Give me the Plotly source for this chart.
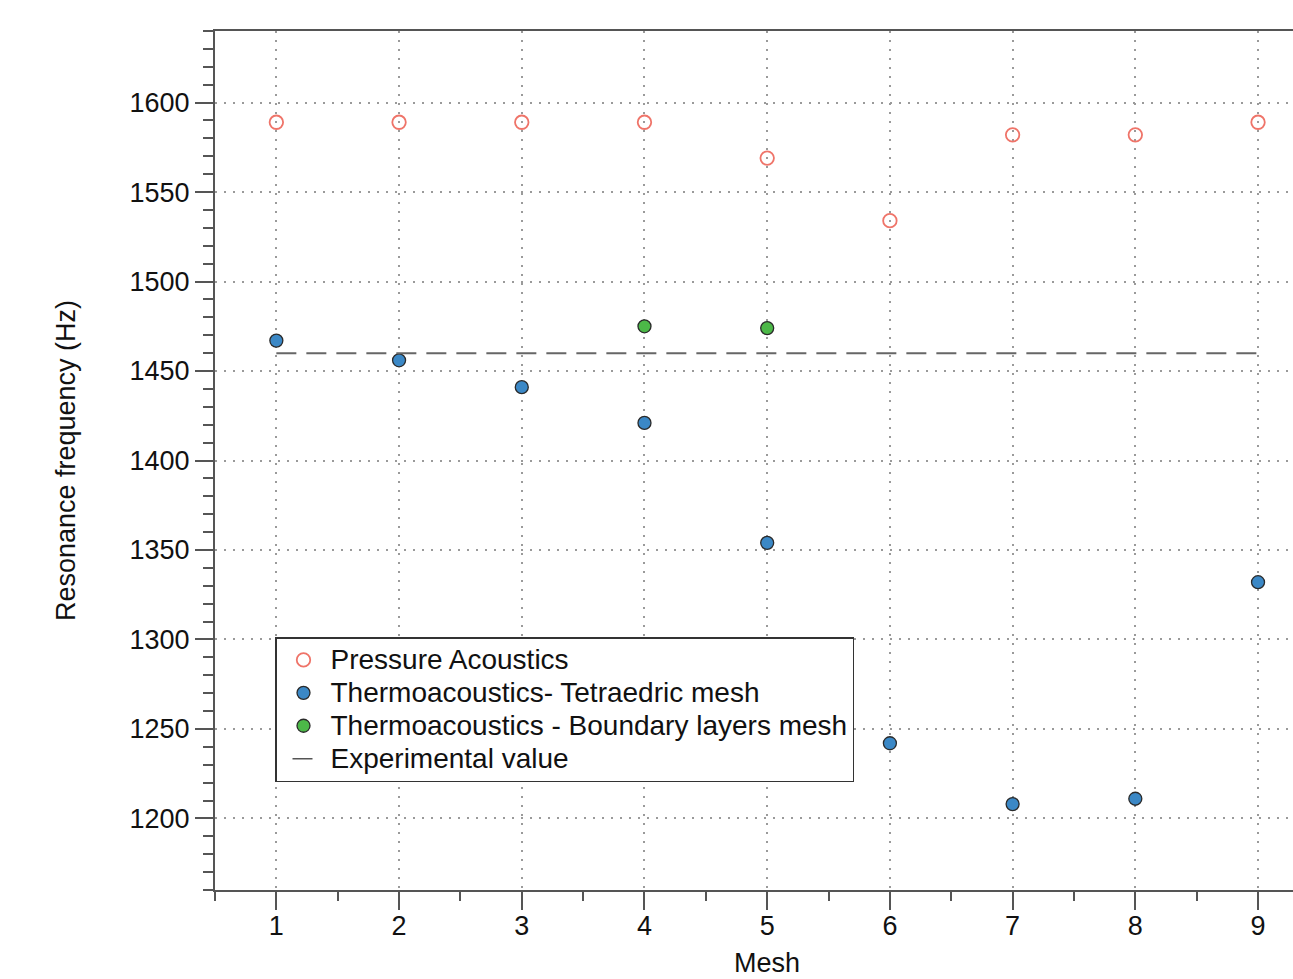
import plotly.graph_objects as go

# Mesh indices and resonance frequencies (Hz)
mesh = [1, 2, 3, 4, 5, 6, 7, 8, 9]
pressure_acoustics = [1589, 1589, 1589, 1589, 1569, 1534, 1582, 1582, 1589]
thermo_tetra = [1467, 1456, 1441, 1421, 1354, 1242, 1208, 1211, 1332]
mesh_boundary = [4, 5]
thermo_boundary = [1475, 1474]
experimental_x = [1, 9]
experimental_value = 1460

FONT = "Liberation Sans, Arial, Helvetica, sans-serif"
AXIS_COLOR = "#555555"
TEXT_COLOR = "#111111"


def legend_label(text):
    # legend rows keep a compact spacing while the label itself is drawn larger
    return f"<span style='font-size:28px'>{text}</span>"


fig = go.Figure()

fig.add_trace(go.Scatter(
    x=mesh, y=pressure_acoustics, mode="markers",
    name=legend_label("Pressure Acoustics"),
    marker=dict(symbol="circle-open", size=13.5, color="#ef7469",
                line=dict(width=1.8, color="#ef7469")),
))
fig.add_trace(go.Scatter(
    x=mesh, y=thermo_tetra, mode="markers",
    name=legend_label("Thermoacoustics- Tetraedric mesh"),
    marker=dict(symbol="circle", size=13, color="#3b88c6",
                line=dict(width=1.3, color="#2a2a2a")),
))
fig.add_trace(go.Scatter(
    x=mesh_boundary, y=thermo_boundary, mode="markers",
    name=legend_label("Thermoacoustics - Boundary layers mesh"),
    marker=dict(symbol="circle", size=13, color="#4cb848",
                line=dict(width=1.3, color="#2a2a2a")),
))
# Experimental reference line (dashed on the plot)
fig.add_trace(go.Scatter(
    x=experimental_x, y=[experimental_value] * len(experimental_x), mode="lines",
    name="Experimental value", showlegend=False,
    line=dict(color="#666666", width=2, dash="20px,10px"),
))
# Legend entry for the experimental line, shown as a short solid stroke
fig.add_trace(go.Scatter(
    x=[None], y=[None], mode="lines",
    name=legend_label("Experimental value"),
    line=dict(color="#555555", width=1.5, dash="0px,11px,20px,300px"),
))

fig.update_layout(
    width=1293, height=979,
    margin=dict(l=215, r=0, t=31, b=89),
    paper_bgcolor="white", plot_bgcolor="white",
    font=dict(family=FONT, size=26, color=TEXT_COLOR),
    showlegend=True,
    legend=dict(
        x=(275 - 215) / (1293 - 215), y=(890 - 637) / (890 - 31),
        xanchor="left", yanchor="top",
        bgcolor="white", bordercolor="#333333", borderwidth=1.5,
        font=dict(family=FONT, size=23, color=TEXT_COLOR),
        itemwidth=44, tracegroupgap=0,
    ),
)

fig.update_xaxes(
    range=[0.5, 9.285], tick0=1, dtick=1,
    showline=True, linecolor=AXIS_COLOR, linewidth=2, mirror=True,
    ticks="outside", ticklen=18, tickwidth=2, tickcolor=AXIS_COLOR,
    showgrid=True, gridcolor="#9a9a9a", gridwidth=1.5, griddash="1.5px,7.5px",
    zeroline=False,
    minor=dict(ticks="outside", ticklen=9, tickwidth=2, tickcolor=AXIS_COLOR,
               tick0=0.5, dtick=0.5, showgrid=False),
    tickfont=dict(family=FONT, size=27, color=TEXT_COLOR),
    ticklabelstandoff=-7,
)
fig.update_yaxes(
    range=[1160, 1640], tick0=1200, dtick=50,
    showline=True, linecolor=AXIS_COLOR, linewidth=2, mirror=False,
    ticks="outside", ticklen=18, tickwidth=2, tickcolor=AXIS_COLOR,
    showgrid=True, gridcolor="#9a9a9a", gridwidth=1.5, griddash="1.5px,7.5px",
    zeroline=False,
    minor=dict(ticks="outside", ticklen=10, tickwidth=2, tickcolor=AXIS_COLOR,
               tick0=1160, dtick=10, showgrid=False),
    tickfont=dict(family=FONT, size=27, color=TEXT_COLOR),
    ticklabelstandoff=0,
    title=dict(text="Resonance frequency (Hz)", standoff=46,
               font=dict(family=FONT, size=27, color=TEXT_COLOR)),
)

# x-axis title centred on the middle mesh
fig.add_annotation(
    x=5, xref="x", y=-0.0655, yref="paper", yanchor="top",
    text="Mesh", showarrow=False,
    font=dict(family=FONT, size=27, color=TEXT_COLOR),
)

fig.write_html("out.html")
